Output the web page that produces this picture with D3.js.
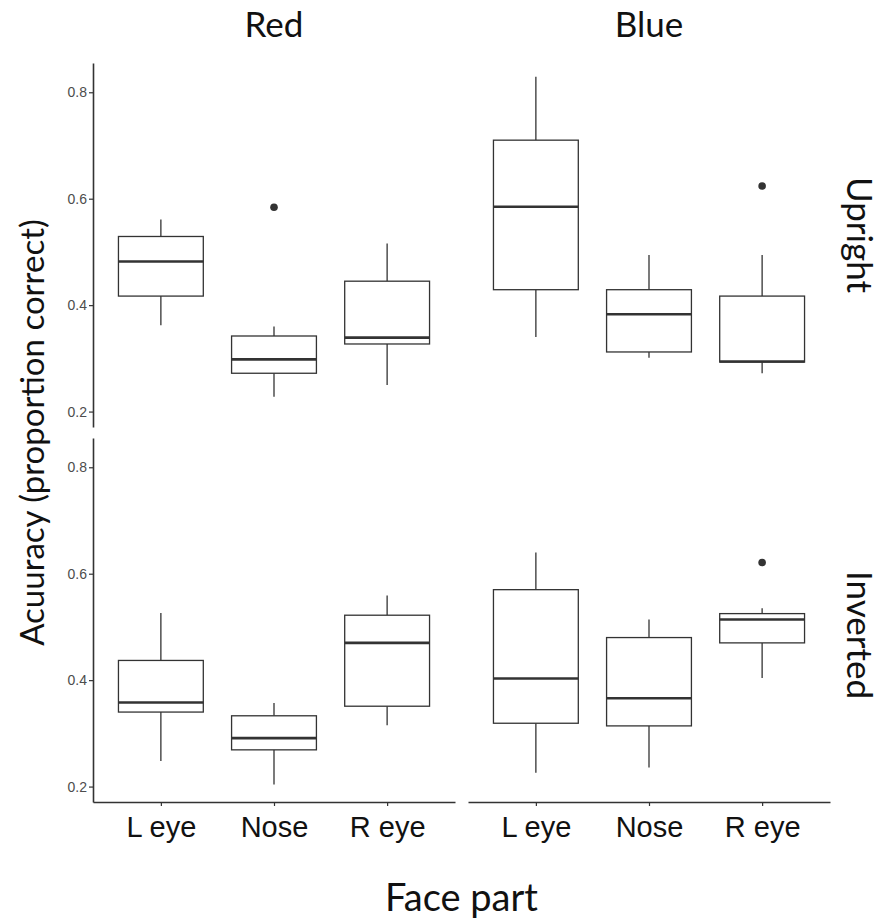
<!DOCTYPE html>
<html>
<head>
<meta charset="utf-8">
<script src="https://cdn.jsdelivr.net/npm/d3@7"></script>
<style>
  html, body { margin: 0; padding: 0; background: #fff; }
  svg { display: block; font-family: Lato, 'Open Sans', sans-serif; }
</style>
</head>
<body>
<svg id="chart"></svg>
<script>
const parts = ['L eye', 'Nose', 'R eye'];
const colours = ['Red', 'Blue'];
const orientations = ['Upright', 'Inverted'];
const yTicks = [0.2, 0.4, 0.6, 0.8];

// [lower whisker, q1, median, q3, upper whisker] per face part
const uprightRed = [[0.362, 0.417, 0.482, 0.529, 0.561], [0.228, 0.272, 0.298, 0.342, 0.360], [0.250, 0.327, 0.339, 0.445, 0.516]];
const uprightBlue = [[0.340, 0.429, 0.585, 0.710, 0.829], [0.301, 0.312, 0.383, 0.429, 0.494], [0.272, 0.293, 0.294, 0.417, 0.494]];
const invertedRed = [[0.248, 0.340, 0.358, 0.437, 0.526], [0.204, 0.269, 0.291, 0.333, 0.357], [0.315, 0.351, 0.470, 0.522, 0.559]];
const invertedBlue = [[0.226, 0.319, 0.403, 0.570, 0.640], [0.236, 0.314, 0.366, 0.480, 0.514], [0.404, 0.470, 0.514, 0.525, 0.535]];

const outliers = [
  { orientation: 'Upright', colour: 'Red', part: 'Nose', value: 0.584 },
  { orientation: 'Upright', colour: 'Blue', part: 'R eye', value: 0.624 },
  { orientation: 'Inverted', colour: 'Blue', part: 'R eye', value: 0.621 }
];

const stats = {
  Upright: { Red: uprightRed, Blue: uprightBlue },
  Inverted: { Red: invertedRed, Blue: invertedBlue }
};

const width = 886;
const height = 921;
const cols = [[93, 455], [468, 830]];
const rows = [[63, 427], [438, 802]];
const stripShift = [-10, 15];
const yDomain = [0.171, 0.855];
const ink = '#333';

const svg = d3.select('#chart')
  .attr('width', width)
  .attr('height', height);

orientations.forEach((orient, ri) => {
  const y = d3.scaleLinear().domain(yDomain).range([rows[ri][1], rows[ri][0]]);

  // y axis only on the left column
  const yAxis = svg.append('g')
    .attr('transform', `translate(${cols[0][0]},0)`)
    .call(d3.axisLeft(y).tickValues(yTicks).tickFormat(d3.format('.1f')).tickSize(4).tickSizeOuter(0));
  yAxis.select('.domain').attr('stroke', ink).attr('stroke-width', 1.6);
  yAxis.selectAll('.tick line').attr('stroke', ink).attr('stroke-width', 1.2);
  yAxis.selectAll('.tick text').attr('fill', '#4d4d4d').attr('font-size', 14).attr('x', -6);

  colours.forEach((col, ci) => {
    const x = d3.scalePoint().domain(parts).range(cols[ci]).padding(0.6);
    const bw = x.step() * 0.75;
    const g = svg.append('g');

    if (ri === orientations.length - 1) {
      const xAxis = svg.append('g')
        .attr('transform', `translate(0,${rows[ri][1]})`)
        .call(d3.axisBottom(x).tickSize(4).tickSizeOuter(0));
      xAxis.select('.domain').attr('stroke', ink).attr('stroke-width', 1.6);
      xAxis.selectAll('.tick line').attr('stroke', ink).attr('stroke-width', 1.2);
      xAxis.selectAll('.tick text').attr('fill', '#111').attr('font-size', 29).attr('dy', '0.97em');
    }

    const boxes = g.selectAll('g.box')
      .data(stats[orient][col].map((s, i) => ({ part: parts[i], s })))
      .join('g')
      .attr('class', 'box');

    boxes.append('line')
      .attr('x1', d => x(d.part)).attr('x2', d => x(d.part))
      .attr('y1', d => y(d.s[4])).attr('y2', d => y(d.s[3]))
      .attr('stroke', ink).attr('stroke-width', 1.3);
    boxes.append('line')
      .attr('x1', d => x(d.part)).attr('x2', d => x(d.part))
      .attr('y1', d => y(d.s[1])).attr('y2', d => y(d.s[0]))
      .attr('stroke', ink).attr('stroke-width', 1.3);
    boxes.append('rect')
      .attr('x', d => x(d.part) - bw / 2)
      .attr('width', bw)
      .attr('y', d => y(d.s[3]))
      .attr('height', d => y(d.s[1]) - y(d.s[3]))
      .attr('fill', '#fff')
      .attr('stroke', ink).attr('stroke-width', 1.3);
    boxes.append('line')
      .attr('x1', d => x(d.part) - bw / 2).attr('x2', d => x(d.part) + bw / 2)
      .attr('y1', d => y(d.s[2])).attr('y2', d => y(d.s[2]))
      .attr('stroke', ink).attr('stroke-width', 2.6);

    g.selectAll('circle')
      .data(outliers.filter(o => o.orientation === orient && o.colour === col))
      .join('circle')
      .attr('cx', d => x(d.part))
      .attr('cy', d => y(d.value))
      .attr('r', 3.8)
      .attr('fill', ink);

    if (ri === 0) {
      svg.append('text')
        .attr('x', (cols[ci][0] + cols[ci][1]) / 2)
        .attr('y', 37)
        .attr('text-anchor', 'middle')
        .attr('font-size', 35)
        .attr('fill', '#111')
        .text(col);
    }
  });

  svg.append('text')
    .attr('transform', `translate(847,${(rows[ri][0] + rows[ri][1]) / 2 + stripShift[ri]}) rotate(90)`)
    .attr('text-anchor', 'middle')
    .attr('font-size', 35)
    .attr('fill', '#111')
    .text(orient);
});

svg.append('text')
  .attr('transform', `translate(44,${(rows[0][0] + rows[1][1]) / 2}) rotate(-90)`)
  .attr('text-anchor', 'middle')
  .attr('font-size', 33)
  .attr('fill', '#111')
  .text('Acuuracy (proportion correct)');

svg.append('text')
  .attr('x', (cols[0][0] + cols[1][1]) / 2)
  .attr('y', 911)
  .attr('text-anchor', 'middle')
  .attr('font-size', 38)
  .attr('fill', '#111')
  .text('Face part');
</script>
</body>
</html>
